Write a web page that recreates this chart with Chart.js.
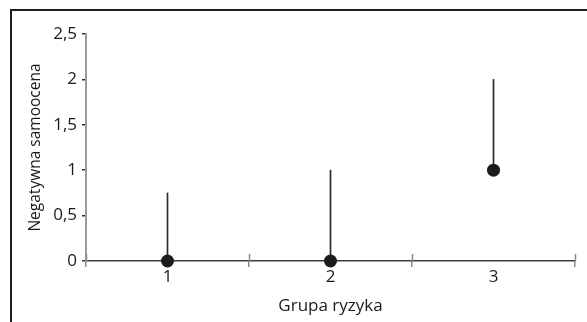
<!DOCTYPE html>
<html lang="pl">
<head>
<meta charset="utf-8">
<title>Negatywna samoocena w grupach ryzyka</title>
<script src="https://cdn.jsdelivr.net/npm/chart.js@4/dist/chart.umd.min.js"></script>
<style>
  html, body { margin: 0; padding: 0; background: #fff; }
  #wrap { position: relative; width: 587px; height: 322px; overflow: hidden; }
  #frame { position: absolute; left: 10px; top: 9px; width: 600px; height: 330px;
           border-top: 2px solid #1e1e1e; border-left: 2px solid #1e1e1e; pointer-events: none; }
  canvas { position: absolute; left: 0; top: 0; }
</style>
</head>
<body>
<div id="wrap">
  <canvas id="chart" width="587" height="322"></canvas>
  <div id="frame"></div>
</div>
<script>
// Risk groups on the x axis
const groups = ['1', '2', '3'];
// Point estimate for each group
const scores = [0, 0, 1];
// Lower and upper end of the vertical range line for each group
const rangeLow = [0, 0, 1];
const rangeHigh = [0.75, 1, 2];
// Value axis ticks and their Polish-formatted labels
const yTickValues = [0, 0.5, 1, 1.5, 2, 2.5];
const yTickLabels = ['0', '0,5', '1', '1,5', '2', '2,5'];

const FONT = "'Open Sans', 'DejaVu Sans', sans-serif";

// Short tick marks that cross the x axis at the category boundaries
const crossTicks = {
  id: 'crossTicks',
  afterDatasetsDraw(chart) {
    const x = chart.scales.x;
    const y0 = chart.scales.y.getPixelForValue(0);
    const ctx = chart.ctx;
    ctx.save();
    ctx.strokeStyle = '#8a8a8a';
    ctx.lineWidth = 1.5;
    for (let i = 0; i <= groups.length; i++) {
      const px = Math.round(x.getPixelForValue(i - 0.5)) + 0.5;
      ctx.beginPath();
      ctx.moveTo(px, y0 - 7);
      ctx.lineTo(px, y0);
      ctx.stroke();
    }
    ctx.restore();
  }
};

new Chart(document.getElementById('chart'), {
  type: 'bar',
  data: {
    labels: groups,
    datasets: [
      {
        type: 'line',
        data: scores,
        showLine: false,
        pointRadius: 6.5,
        pointHoverRadius: 6.5,
        pointBackgroundColor: '#1c1c1c',
        pointBorderColor: '#1c1c1c',
        pointBorderWidth: 0,
        clip: false,
        order: 0
      },
      {
        type: 'bar',
        data: groups.map((g, i) => [rangeLow[i], rangeHigh[i]]),
        backgroundColor: '#2a2a2a',
        borderWidth: 0,
        barThickness: 1,
        order: 1
      }
    ]
  },
  options: {
    responsive: false,
    animation: false,
    events: [],
    layout: { padding: { top: 34, right: 12, bottom: 6, left: 26 } },
    plugins: { legend: { display: false }, tooltip: { enabled: false } },
    scales: {
      x: {
        offset: true,
        grid: {
          offset: true,
          drawOnChartArea: false,
          drawTicks: true,
          tickLength: 6,
          color: '#8a8a8a',
          lineWidth: 1.5
        },
        border: { display: true, color: '#3c3c3c', width: 1.5 },
        ticks: {
          color: '#1a1a1a',
          padding: 0,
          font: { family: FONT, size: 17 }
        },
        title: {
          display: true,
          text: 'Grupa ryzyka',
          color: '#1a1a1a',
          padding: { top: 4, bottom: 0 },
          font: { family: FONT, size: 17 }
        },
        afterFit(scale) { scale.height = 55; }
      },
      y: {
        min: 0,
        max: 2.5,
        afterBuildTicks(scale) { scale.ticks = yTickValues.map(v => ({ value: v })); },
        grid: {
          drawOnChartArea: false,
          drawTicks: true,
          tickLength: 4,
          color: '#333',
          lineWidth: 1.5
        },
        border: { display: true, color: '#9a9a9a', width: 2 },
        ticks: {
          color: '#1a1a1a',
          padding: 5,
          font: { family: FONT, size: 17 },
          callback: (v, i) => yTickLabels[i]
        },
        title: {
          display: true,
          text: 'Negatywna samoocena',
          color: '#1a1a1a',
          padding: { top: 0, bottom: 4 },
          font: { family: FONT, size: 15.5 }
        },
        afterFit(scale) { scale.width = 60; }
      }
    }
  },
  plugins: [crossTicks]
});
</script>
</body>
</html>
